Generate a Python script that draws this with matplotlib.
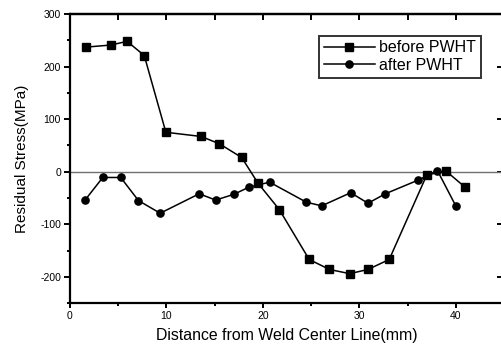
import matplotlib
matplotlib.use("Agg")
import matplotlib.pyplot as plt
from matplotlib.ticker import MultipleLocator

plt.rcParams['font.family'] = ['Liberation Sans', 'DejaVu Sans']
plt.rcParams['axes.unicode_minus'] = False

before_x = [1.66, 4.26, 5.92, 7.7, 9.94, 13.6, 15.5, 17.8, 19.5, 21.7, 24.8, 26.9, 29.0, 30.9, 33.1, 37.0, 39.0, 41.0]
before_y = [237, 241, 248, 221, 75, 67, 53, 27, -22, -72, -167, -186, -194, -186, -167, -6, 1, -30]

after_x = [1.56, 3.4, 5.26, 7.1, 9.35, 13.4, 15.1, 17.0, 18.6, 20.7, 24.5, 26.1, 29.1, 30.9, 32.7, 36.1, 38.1, 40.0]
after_y = [-54, -11, -11, -55, -79, -42, -54, -43, -29, -20, -58, -65, -40, -60, -42, -16, 2, -65]

xlabel = "Distance from Weld Center Line(mm)"
ylabel = "Residual Stress(MPa)"
labels = ["before PWHT", "after PWHT"]

fig = plt.figure(figsize=(5.02, 3.54), dpi=100)
ax = fig.add_axes([70/502, 1 - 303.1/354, 434/502, 289.1/354])

ax.axhline(0, color='#707070', lw=1.0, zorder=1)
ax.plot(before_x, before_y, color='black', lw=1.1, marker='s', ms=5.2, label=labels[0], zorder=3)
ax.plot(after_x, after_y, color='black', lw=1.1, marker='o', ms=5.2, label=labels[1], zorder=3)

ax.set_xlim(0, 45)
ax.set_ylim(-250, 300)
ax.xaxis.set_major_locator(MultipleLocator(10))
ax.xaxis.set_minor_locator(MultipleLocator(5))
ax.yaxis.set_major_locator(MultipleLocator(100))
ax.yaxis.set_minor_locator(MultipleLocator(50))

for s in ax.spines.values():
    s.set_linewidth(1.6)

ax.tick_params(which='major', direction='out', length=4.5, width=1.4, labelsize=7.5, pad=2)
ax.tick_params(which='minor', direction='out', length=2.5, width=1.4)
ax.tick_params(axis='x', which='major', length=3.5)

# top and right ticks pointing inward
top = ax.secondary_xaxis('top')
top.xaxis.set_major_locator(MultipleLocator(5))
top.tick_params(direction='in', length=4, width=1.4, labelsize=0)
top.set_xticklabels([])
top.spines['top'].set_linewidth(1.6)
right = ax.secondary_yaxis('right')
right.yaxis.set_major_locator(MultipleLocator(100))
right.yaxis.set_minor_locator(MultipleLocator(50))
right.tick_params(which='major', direction='in', length=5, width=1.4)
right.tick_params(which='minor', direction='in', length=2.5, width=1.4)
right.set_yticklabels([])

ax.set_xlabel(xlabel, fontsize=11.4, labelpad=5)
ax.set_ylabel(ylabel, fontsize=11, labelpad=8)

leg = ax.legend(loc='upper left', bbox_to_anchor=((319-70)/434, 1 - (35.7-14)/289.1),
                fontsize=11.5, frameon=True, fancybox=False, edgecolor='black',
                handlelength=3.2, handletextpad=0.25, borderpad=0.3, labelspacing=0.15,
                borderaxespad=0)
leg.get_frame().set_linewidth(1.4)

fig.savefig("out.png", dpi=100)
